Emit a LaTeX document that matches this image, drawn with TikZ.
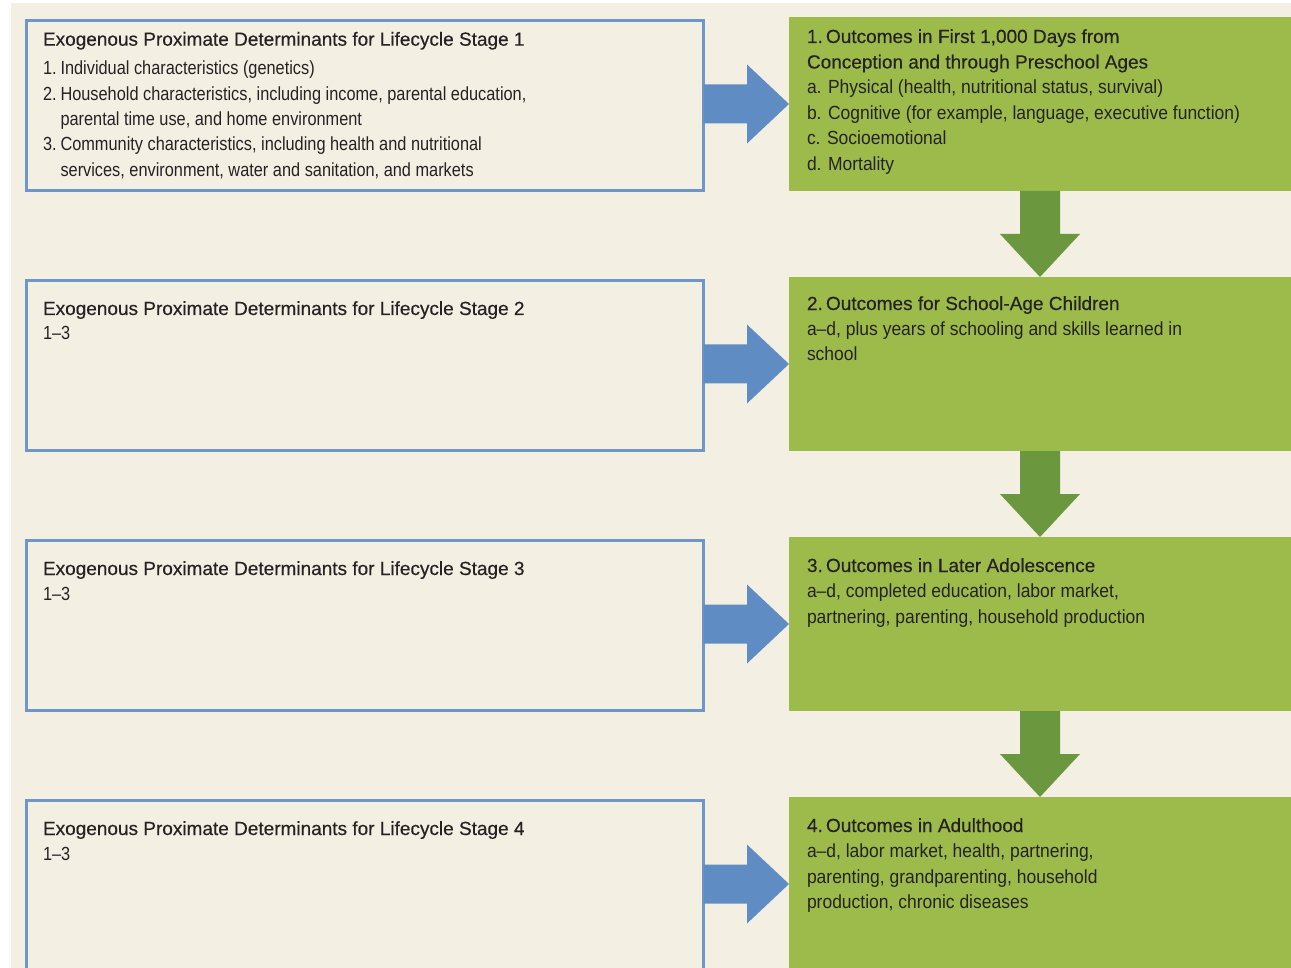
\documentclass[tikz,border=0pt]{standalone}
\usepackage{fontspec}
\setmainfont[FakeStretch=0.92]{Liberation Sans}
\newfontfamily\headfont[FakeBold=0.4]{Liberation Sans}
\newfontfamily\leftbody[FakeStretch=0.86]{Liberation Sans}
\usetikzlibrary{calc}
\definecolor{cream}{HTML}{F3EFE3}
\definecolor{boxblue}{HTML}{6E97C8}
\definecolor{arrowblue}{HTML}{5F8DC3}
\definecolor{boxgreen}{HTML}{9CBB4B}
\definecolor{arrowgreen}{HTML}{6B973F}
\definecolor{ink}{HTML}{262223}
\newcommand{\tstrut}{\rule{0pt}{18pt}}
\newcommand{\numitem}[1]{\makebox[17.5pt][l]{#1}}
\begin{document}
\begin{tikzpicture}[x=1pt,y=-1pt,
  detbox/.style={draw=boxblue, line width=2.6pt, outer sep=0pt, inner sep=0pt, anchor=north west, minimum width=677pt, minimum height=170pt},
  outbox/.style={fill=boxgreen, outer sep=0pt, inner sep=0pt, anchor=north west, minimum width=502pt, minimum height=174pt},
  txt/.style={anchor=north west, inner sep=0pt, outer sep=0pt, align=left, text=ink, font=\fontsize{19}{25.5}\selectfont},
  ltxt/.style={txt, font=\fontsize{19}{25.3}\leftbody},
  bluearrow/.style={fill=arrowblue},
  greenarrow/.style={fill=arrowgreen}]
\useasboundingbox (0,0) rectangle (1291,968);
\clip (0,0) rectangle (1291,968);
\fill[cream] (11,3) rectangle (1291,968);

% determinant boxes
\node[detbox] (d1) at (26.5,20.5) {};
\node[detbox] (d2) at (26.5,280.5) {};
\node[detbox] (d3) at (26.5,540.5) {};
\node[detbox] (d4) at (26.5,800.5) {};

% outcome boxes
\node[outbox] (o1) at (789,17) {};
\node[outbox] (o2) at (789,277) {};
\node[outbox] (o3) at (789,537) {};
\node[outbox] (o4) at (789,797) {};

% blue arrows
\foreach \i in {1,2,3,4}{
  \fill[bluearrow] (d\i.east |- o\i.west) ++(0,-19.5) -- ++(43.5,0) -- ++(0,-20) -- (o\i.west) -- ++(-42,39.5) -- ++(0,-20) -- ++(-43.5,0) -- cycle;
}
% green arrows
\foreach \i/\j in {1/2,2/3,3/4}{
  \fill[greenarrow] (o\i.south) ++(-20,0) -- ++(0,43) -- ++(-20,0) -- (o\j.north) -- ++(40,-43) -- ++(-20,0) -- ++(0,-43) -- cycle;
}

% determinant texts
\node[txt] (t1) at (43,27.7) {\tstrut\headfont Exogenous Proximate Determinants for Lifecycle Stage 1};
\node[ltxt] (b1) at (43,57) {\tstrut\numitem{1.}Individual characteristics (genetics)\\
\numitem{2.}Household characteristics, including income, parental education,\\
\hspace*{17.5pt}parental time use, and home environment\\
\numitem{3.}Community characteristics, including health and nutritional\\
\hspace*{17.5pt}services, environment, water and sanitation, and markets};

\node[txt] (t2) at (43,297) {\tstrut\headfont Exogenous Proximate Determinants for Lifecycle Stage 2};
\node[ltxt] (b2) at (43,322) {\tstrut 1–3};
\node[txt] (t3) at (43,557) {\tstrut\headfont Exogenous Proximate Determinants for Lifecycle Stage 3};
\node[ltxt] (b3) at (43,582) {\tstrut 1–3};
\node[txt] (t4) at (43,817) {\tstrut\headfont Exogenous Proximate Determinants for Lifecycle Stage 4};
\node[ltxt] (b4) at (43,842) {\tstrut 1–3};

% outcome texts
\node[txt] (g1) at (807,25) {\tstrut{\headfont 1.\,Outcomes in First 1,000 Days from}\\
{\headfont Conception and through Preschool Ages}\\
a. Physical (health, nutritional status, survival)\\
b. Cognitive (for example, language, executive function)\\
c. Socioemotional\\
d. Mortality};
\node[txt] (g2) at (807,292) {\tstrut{\headfont 2.\,Outcomes for School-Age Children}\\
a–d, plus years of schooling and skills learned in\\
school};
\node[txt] (g3) at (807,554) {\tstrut{\headfont 3.\,Outcomes in Later Adolescence}\\
a–d, completed education, labor market,\\
partnering, parenting, household production};
\node[txt] (g4) at (807,814) {\tstrut{\headfont 4.\,Outcomes in Adulthood}\\
a–d, labor market, health, partnering,\\
parenting, grandparenting, household\\
production, chronic diseases};
\end{tikzpicture}
\end{document}
